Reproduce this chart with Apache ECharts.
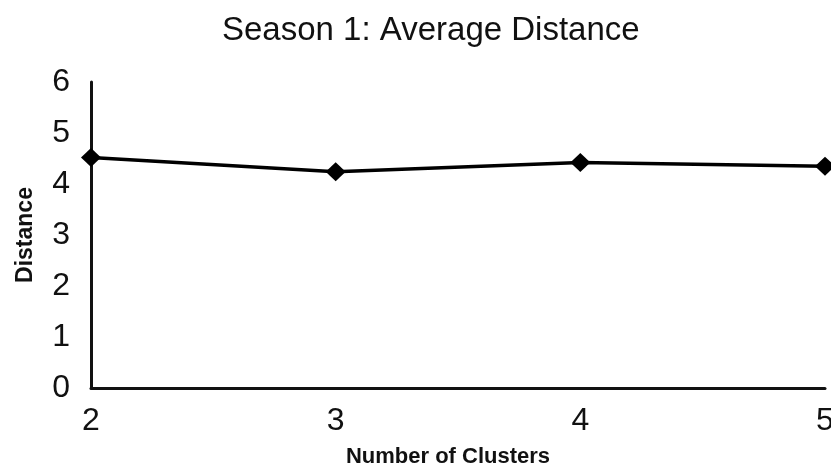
<!DOCTYPE html>
<html>
<head>
<meta charset="utf-8">
<script src="https://cdn.jsdelivr.net/npm/echarts@6/dist/echarts.min.js"></script>
<style>
  html, body { margin: 0; padding: 0; background: #fff; }
  #chart { width: 831px; height: 470px; }
</style>
</head>
<body>
<div id="chart"></div>
<script>
// Average distance per number of clusters (season 1)
const clusters = ['2', '3', '4', '5'];
const avgDistance = [4.52, 4.24, 4.42, 4.35];
const yTicks = { min: 0, max: 6, interval: 1 };

const font = '"Liberation Sans", Arial, sans-serif';
const chart = echarts.init(document.getElementById('chart'), null, { renderer: 'canvas' });

chart.setOption({
  animation: false,
  backgroundColor: '#ffffff',
  title: {
    text: 'Season 1: Average Distance',
    left: 217,
    top: 9,
    textStyle: { fontFamily: font, fontSize: 33, fontWeight: 'normal', color: '#111' }
  },
  grid: { left: 91, right: 6, top: 82, bottom: 82, containLabel: false, outerBoundsMode: 'none' },
  xAxis: {
    type: 'category',
    data: clusters,
    boundaryGap: false,
    name: 'Number of Clusters',
    nameLocation: 'middle',
    nameGap: 58,
    nameTextStyle: { fontFamily: font, fontSize: 22, fontWeight: 'bold', color: '#111', padding: [0, 20, 0, 0] },
    axisLine: { lineStyle: { color: '#111', width: 3 } },
    axisTick: { show: false },
    axisLabel: { fontFamily: font, fontSize: 32, color: '#111', margin: 17 },
    splitLine: { show: false }
  },
  yAxis: {
    type: 'value',
    min: yTicks.min,
    max: yTicks.max,
    interval: yTicks.interval,
    name: 'Distance',
    nameLocation: 'middle',
    nameRotate: 90,
    nameGap: 54,
    nameTextStyle: { fontFamily: font, fontSize: 23, fontWeight: 'bold', color: '#111' },
    axisLine: { show: true, lineStyle: { color: '#111', width: 3 } },
    axisTick: { show: false },
    axisLabel: { fontFamily: font, fontSize: 32, color: '#111', margin: 21 },
    splitLine: { show: false }
  },
  series: [{
    type: 'line',
    data: avgDistance,
    symbol: 'diamond',
    symbolSize: [20, 19],
    lineStyle: { color: '#000', width: 3.5 },
    itemStyle: { color: '#000' },
    z: 5
  }]
});
</script>
</body>
</html>
